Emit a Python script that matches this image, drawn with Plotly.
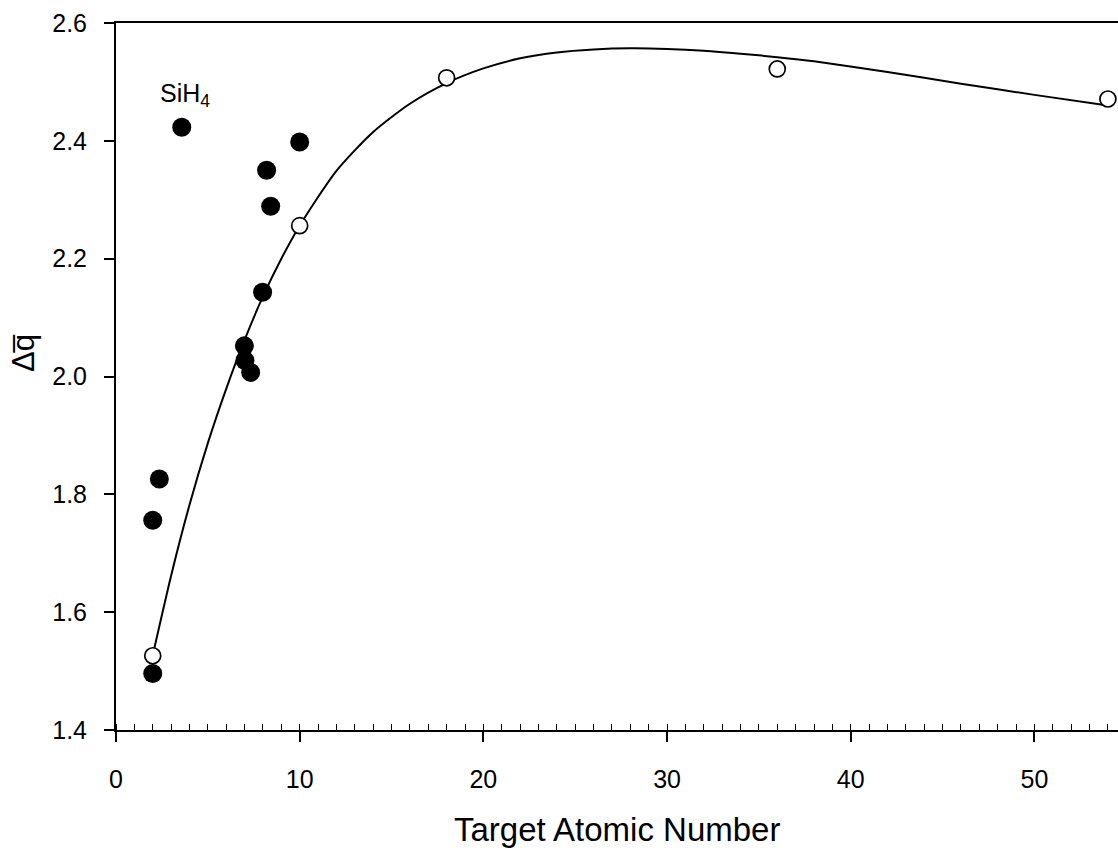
import plotly.graph_objects as go

# Measured charge-state shifts: filled symbols (molecular / light targets)
filled_z = [3.58, 10.0, 8.2, 8.42, 7.98, 6.99, 7.02, 7.33, 2.36, 2.0, 2.0]
filled_dq = [2.423, 2.398, 2.350, 2.289, 2.143, 2.052, 2.027, 2.007, 1.826, 1.756, 1.496]

# Rare-gas targets (open symbols)
open_z = [2, 10, 18, 36, 54]
open_dq = [1.526, 2.256, 2.507, 2.522, 2.471]

# Fitted trend through the rare-gas values, sampled along Z
fit_z = [2, 3, 4, 5, 6, 7, 8, 9, 10, 12, 14, 16, 18, 20, 22, 24, 26, 28, 30,
         32, 34, 36, 38, 42, 46, 50, 54]
fit_dq = [1.527, 1.662, 1.782, 1.887, 1.979, 2.062, 2.136, 2.200, 2.256, 2.349,
          2.415, 2.463, 2.498, 2.523, 2.540, 2.550, 2.555, 2.557, 2.556, 2.553,
          2.548, 2.542, 2.535, 2.517, 2.497, 2.478, 2.460]

x_ticks = [0, 10, 20, 30, 40, 50]
y_ticks = [1.4, 1.6, 1.8, 2.0, 2.2, 2.4, 2.6]

FONT = "Liberation Sans, Arial, sans-serif"

fig = go.Figure()

fig.add_trace(go.Scatter(
    x=fit_z, y=fit_dq, mode="lines",
    line=dict(color="black", width=2, shape="spline", smoothing=0.7),
    hoverinfo="skip", cliponaxis=False,
))

fig.add_trace(go.Scatter(
    x=filled_z, y=filled_dq, mode="markers",
    marker=dict(symbol="circle", size=19, color="black",
                line=dict(color="black", width=0)),
    cliponaxis=False,
))

fig.add_trace(go.Scatter(
    x=open_z, y=open_dq, mode="markers",
    marker=dict(symbol="circle", size=16, color="white",
                line=dict(color="black", width=1.7)),
    cliponaxis=False,
))

fig.add_annotation(
    x=3.76, y=2.478, xref="x", yref="y",
    text="SiH<sub>4</sub>", showarrow=False,
    font=dict(family=FONT, size=25, color="black"),
)

# Axis titles
fig.add_annotation(
    x=0.5, y=-0.1414, xref="paper", yref="paper",
    xanchor="center", yanchor="middle",
    text="Target Atomic Number", showarrow=False,
    font=dict(family=FONT, size=33, color="black"),
)
fig.add_annotation(
    x=-0.093, y=0.533, xref="paper", yref="paper",
    xanchor="center", yanchor="middle", textangle=-90,
    text="\u0394q\u0305", showarrow=False,
    font=dict(family=FONT, size=31, color="black"),
)

fig.update_layout(
    width=1118, height=848,
    margin=dict(l=116, r=0, t=23, b=118),
    paper_bgcolor="white", plot_bgcolor="white",
    showlegend=False,
    font=dict(family=FONT, color="black"),
)

fig.update_xaxes(
    range=[0, 54.55],
    tickvals=x_ticks, ticktext=[str(v) for v in x_ticks],
    ticks="outside", ticklen=10, tickwidth=2, tickcolor="black",
    tickfont=dict(family=FONT, size=25, color="black"),
    ticklabelstandoff=16,
    minor=dict(dtick=1, tick0=0, ticks="inside", ticklen=6, tickwidth=1.3,
               tickcolor="black", showgrid=False),
    showline=True, linecolor="black", linewidth=2, mirror=True,
    showgrid=False, zeroline=False,
)

fig.update_yaxes(
    range=[1.4, 2.6],
    tickvals=y_ticks, ticktext=[f"{v:.1f}" for v in y_ticks],
    ticks="outside", ticklen=10, tickwidth=2, tickcolor="black",
    tickfont=dict(family=FONT, size=25, color="black"),
    ticklabelstandoff=12,
    showline=True, linecolor="black", linewidth=2,
    showgrid=False, zeroline=False,
)

fig.write_html("out.html")
